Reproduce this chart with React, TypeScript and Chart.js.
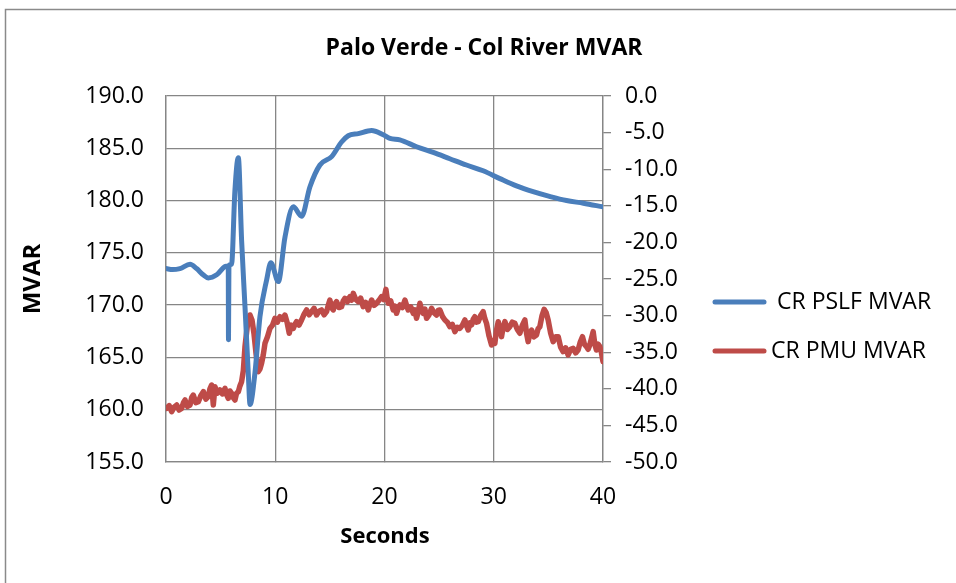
import React, { useEffect, useRef } from "react";
import { Chart, registerables } from "chart.js";

Chart.register(...registerables);

const TITLE = "Palo Verde - Col River MVAR";
const X_TITLE = "Seconds";
const Y_TITLE = "MVAR";
const SERIES_NAMES = ["CR PSLF MVAR", "CR PMU MVAR"];

// CR PSLF MVAR (left axis)
const pslfTime = [0, 0.6, 1.28, 2.2, 2.8, 3.4, 3.87, 4.64, 5.4, 5.7, 5.72, 5.76, 6.0, 6.31, 6.62, 6.92, 7.23, 7.53, 7.69, 8.14, 8.6, 9.21, 9.6, 10.28, 10.89, 11.65, 12.41, 13.17, 14.09, 15.16, 16.07, 16.68, 17.6, 18.82, 19.88, 20.5, 21.4, 22.94, 24.46, 25.98, 27.5, 29.03, 30.56, 32.08, 33.6, 35.1, 36.66, 38.2, 40];
const pslfValues = [173.5, 173.4, 173.5, 173.9, 173.5, 172.9, 172.6, 172.9, 173.7, 173.75, 166.7, 173.8, 173.9, 181.0, 184.1, 176.2, 169.85, 163.5, 160.5, 163.5, 168.9, 172.4, 174.05, 172.25, 176.5, 179.4, 178.5, 181.3, 183.4, 184.2, 185.6, 186.2, 186.4, 186.7, 186.3, 185.95, 185.8, 185.15, 184.6, 184.0, 183.4, 182.85, 182.1, 181.4, 180.85, 180.4, 180.0, 179.75, 179.4];

// CR PMU MVAR (right axis)
const pmuTime = [
  0.06, 0.29, 0.52, 0.75, 0.98, 1.2, 1.43, 1.6, 1.74, 1.97, 2.2, 2.35, 2.5, 2.73, 2.96, 3.2, 3.42, 3.65, 3.87, 4.02,
  4.18, 4.33, 4.48, 4.7, 4.94, 5.17, 5.4, 5.55, 5.7, 5.85, 6.01, 6.16, 6.31, 6.46, 6.62, 6.77, 6.92, 7.08, 7.23, 7.46,
  7.69, 7.87, 8.05, 8.25, 8.45, 8.6, 8.75, 8.9, 9.06, 9.29, 9.52, 9.75, 9.97, 10.2, 10.43, 10.66, 10.89, 11.08, 11.28, 11.46,
  11.65, 11.8, 11.95, 12.18, 12.41, 12.64, 12.87, 13.1, 13.33, 13.55, 13.78, 14.0, 14.24, 14.47, 14.7, 14.85, 15.0, 15.15, 15.31, 15.46,
  15.61, 15.84, 16.07, 16.22, 16.38, 16.6, 16.83, 16.98, 17.14, 17.37, 17.6, 17.82, 18.05, 18.28, 18.51, 18.66, 18.82, 19.05, 19.27, 19.5,
  19.73, 19.93, 20.13, 20.24, 20.34, 20.57, 20.8, 20.95, 21.1, 21.25, 21.41, 21.64, 21.87, 22.02, 22.17, 22.4, 22.63, 22.78, 22.93, 23.08,
  23.24, 23.39, 23.54, 23.7, 23.85, 24.08, 24.31, 24.53, 24.76, 24.92, 25.07, 25.3, 25.53, 25.75, 25.98, 26.21, 26.44, 26.67, 26.9, 27.13,
  27.36, 27.51, 27.66, 27.82, 27.97, 28.12, 28.27, 28.42, 28.58, 28.8, 29.03, 29.18, 29.34, 29.57, 29.8, 29.95, 30.1, 30.25, 30.41, 30.56,
  30.71, 30.86, 31.02, 31.25, 31.47, 31.7, 31.93, 32.16, 32.39, 32.62, 32.85, 33.0, 33.15, 33.3, 33.46, 33.68, 33.91, 34.06, 34.22, 34.42,
  34.61, 34.8, 34.98, 35.21, 35.44, 35.67, 35.9, 36.12, 36.35, 36.58, 36.81, 37.04, 37.27, 37.5, 37.72, 37.92, 38.12, 38.3, 38.49, 38.64,
  38.79, 38.95, 39.1, 39.25, 39.4, 39.55, 39.71, 39.86, 40.0,
];
const pmuValues = [
  -42.67, -42.3, -43.12, -42.5, -42.21, -42.9, -42.67, -41.9, -41.53, -42.4, -42.21, -41.2, -40.85, -41.9, -41.76, -40.9, -40.39, -41.4, -41.07, -40.0,
  -39.48, -42.21, -39.71, -40.6, -40.16, -40.7, -39.94, -40.8, -41.3, -40.3, -40.62, -41.2, -41.53, -40.6, -40.39, -39.6, -39.03, -37.5, -34.24, -31.2,
  -29.92, -30.6, -32.42, -35.3, -37.66, -37.3, -36.52, -35.4, -33.79, -32.9, -31.74, -31.3, -30.37, -30.9, -30.15, -30.5, -29.92, -30.9, -32.42, -31.3,
  -31.74, -31.2, -30.83, -31.3, -30.6, -29.8, -29.23, -29.9, -29.46, -29.0, -29.92, -29.4, -29.23, -29.9, -29.46, -28.6, -27.87, -28.9, -29.23, -28.4,
  -28.1, -28.9, -28.78, -28.0, -27.64, -28.1, -27.41, -27.9, -26.96, -27.8, -28.1, -27.6, -28.78, -28.2, -29.23, -28.5, -27.87, -28.6, -28.32, -27.9,
  -27.41, -27.8, -26.41, -27.6, -28.32, -28.0, -29.23, -28.7, -29.69, -29.0, -28.55, -28.9, -27.87, -28.6, -29.23, -28.8, -29.69, -29.2, -30.37, -29.5,
  -28.32, -29.2, -29.69, -29.1, -30.37, -29.9, -29.01, -29.6, -29.92, -29.3, -29.23, -30.1, -30.6, -30.9, -31.51, -31.2, -32.19, -31.6, -31.74, -31.3,
  -30.6, -31.4, -31.97, -31.0, -31.28, -30.5, -30.15, -30.9, -30.83, -30.0, -29.46, -30.4, -31.06, -32.8, -34.02, -33.4, -33.79, -32.0, -30.83, -31.9,
  -32.88, -31.6, -30.83, -31.9, -31.51, -30.9, -31.06, -31.9, -32.42, -31.3, -30.6, -32.4, -33.56, -32.5, -31.97, -32.9, -32.65, -31.8, -31.51, -30.0,
  -29.14, -29.6, -30.6, -32.4, -33.56, -32.9, -32.88, -34.3, -34.93, -34.4, -35.38, -34.6, -34.47, -35.1, -34.7, -33.6, -32.88, -33.9, -34.24, -34.6,
  -34.02, -33.1, -32.19, -33.9, -34.7, -33.9, -34.24, -35.1, -36.29,
];

const BLUE = "#4A7EBB";
const RED = "#BE4B48";
const GRID = "#868686";
const FONT = "'Open Sans', 'Liberation Sans', sans-serif";

const decor = {
  id: "decor",
  beforeDraw(chart: any) {
    const ctx = chart.ctx;
    ctx.save();
    ctx.fillStyle = "#ffffff";
    ctx.fillRect(0, 0, chart.width, chart.height);
    ctx.strokeStyle = "#8a8a8a";
    ctx.lineWidth = 1.5;
    ctx.strokeRect(5.5, 9.5, chart.width + 20, chart.height + 20);
    ctx.restore();
  },
  afterDraw(chart: any) {
    const ctx = chart.ctx;
    ctx.save();
    ctx.fillStyle = "#000000";
    ctx.textBaseline = "middle";
    ctx.textAlign = "center";
    ctx.font = `bold 23px ${FONT}`;
    ctx.fillText(TITLE, 484, 48);
    ctx.font = `bold 22px ${FONT}`;
    ctx.fillText(X_TITLE, 385, 537);
    ctx.save();
    ctx.translate(33, 279);
    ctx.rotate(-Math.PI / 2);
    ctx.font = `bold 24px ${FONT}`;
    ctx.fillText(Y_TITLE, 0, 0);
    ctx.restore();

    const colors = [BLUE, RED];
    const ys = [302, 351];
    const textX = [777, 771];
    ctx.font = `23px ${FONT}`;
    ctx.textAlign = "left";
    for (let i = 0; i < 2; i++) {
      ctx.strokeStyle = colors[i];
      ctx.lineWidth = 5;
      ctx.lineCap = "round";
      ctx.beginPath();
      ctx.moveTo(715, ys[i]);
      ctx.lineTo(764, ys[i]);
      ctx.stroke();
      ctx.fillStyle = "#000000";
      ctx.fillText(SERIES_NAMES[i], textX[i], ys[i]);
    }
    ctx.restore();
  },
};

export default function App() {
  const ref = useRef<HTMLCanvasElement | null>(null);
  useEffect(() => {
    if (!ref.current) return;
    const chart = new Chart(ref.current, {
      type: "line",
      data: {
        datasets: [
          {
            label: SERIES_NAMES[0],
            data: pslfTime.map((t, i) => ({ x: t, y: pslfValues[i] })),
            borderColor: BLUE,
            backgroundColor: BLUE,
            borderWidth: 5,
            pointRadius: 0,
            cubicInterpolationMode: "monotone",
            borderCapStyle: "round",
            borderJoinStyle: "round",
            yAxisID: "y",
          },
          {
            label: SERIES_NAMES[1],
            data: pmuTime.map((t, i) => ({ x: t, y: pmuValues[i] })),
            borderColor: RED,
            backgroundColor: RED,
            borderWidth: 5.5,
            pointRadius: 0,
            tension: 0,
            borderCapStyle: "round",
            borderJoinStyle: "round",
            yAxisID: "y1",
          },
        ],
      },
      options: {
        responsive: false,
        animation: false,
        devicePixelRatio: 1,
        layout: { padding: { top: 96, left: 0, right: 0, bottom: 0 } },
        plugins: { legend: { display: false }, tooltip: { enabled: false }, title: { display: false } },
        scales: {
          x: {
            type: "linear",
            min: 0,
            max: 40,
            ticks: { stepSize: 10, color: "#000", font: { family: FONT, size: 23 }, padding: 22, maxRotation: 0 },
            grid: { color: GRID, lineWidth: 1.3, tickLength: 0 },
            border: { color: GRID, width: 1.3 },
            afterFit: (s: any) => { s.height = 121; },
          },
          y: {
            position: "left",
            min: 155,
            max: 190,
            ticks: { stepSize: 5, color: "#000", font: { family: FONT, size: 23 }, padding: 22, callback: (v: any) => Number(v).toFixed(1) },
            grid: { color: GRID, lineWidth: 1.3, tickLength: 0 },
            border: { color: GRID, width: 1.3 },
            afterFit: (s: any) => { s.width = 166; },
          },
          y1: {
            position: "right",
            min: -50,
            max: 0,
            ticks: { stepSize: 5, color: "#000", font: { family: FONT, size: 23 }, padding: 14, callback: (v: any) => Number(v).toFixed(1) },
            grid: { drawOnChartArea: false, color: GRID, lineWidth: 1.3, tickLength: 8 },
            border: { color: GRID, width: 1.3 },
            afterFit: (s: any) => { s.width = 353; },
          },
        },
      },
      plugins: [decor],
    });
    return () => chart.destroy();
  }, []);
  return (
    <div style={{ position: "fixed", left: 0, top: 0, width: 956, height: 583 }}>
      <canvas ref={ref} width={956} height={583} />
    </div>
  );
}
